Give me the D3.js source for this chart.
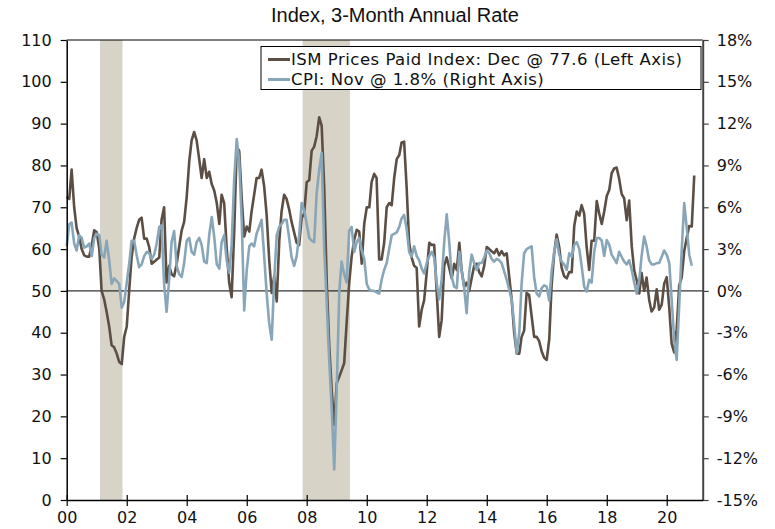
<!DOCTYPE html>
<html>
<head>
<meta charset="utf-8">
<script src="https://cdn.jsdelivr.net/npm/d3@7"></script>
<style>
  body { margin: 0; background: #fff; }
  svg { display: block; }
</style>
</head>
<body>
<svg id="chart" width="775" height="529"></svg>
<script>
// ISM prices paid, monthly Jan 2000 - Dec 2020 (left axis)
const ismValues = [
  72.5, 72, 79, 70, 65, 63, 60, 58.5, 58.2, 58.2, 61, 64.5,
  64, 60, 50, 48, 45, 41.5, 37, 36.5, 35, 33, 32.5, 39,
  41.5, 50.5, 58, 62.5, 65, 67, 67.5, 62.5, 62.5, 60.5, 56.5, 57,
  57.5, 58, 67, 70, 52, 56, 54, 53.5, 56.5, 60.5, 64.5, 66.5,
  72.5, 81, 86, 88, 86, 81.5, 77, 81.5, 77, 78.5, 75.5, 74,
  71, 66, 73, 71, 60.5, 52, 48.5, 64, 84.5, 83.5, 72, 63,
  65.4, 64.2, 69, 73, 77, 77, 79, 75, 68, 57.5, 49.5, 53.5,
  47.5, 62, 69, 73, 72, 69.5, 66.5, 64, 61.5, 61, 67.5, 68.5,
  76, 76.5, 83.5, 84.5, 87, 91.5, 89.5, 75, 52, 37, 26, 18,
  28, 29.5, 31, 32.7, 42.3, 51.8, 58.2, 62.2, 64.6, 64.2, 56.5, 66,
  70, 70, 76, 78, 77, 57.5, 57.5, 61.5, 70, 71, 70.5, 77,
  81.5, 82.5, 85.5, 85.7, 75, 61.5, 58, 56, 55.5, 41.5, 45.5, 47.8,
  54.5, 61.5, 61, 61, 50, 39, 43, 56, 58, 55.5, 53, 56.5,
  55, 61.5, 55, 51, 52, 50, 53, 56, 56.5, 54.5, 53.5, 56,
  60.5, 60, 59.5, 59, 60, 58.5, 59.5, 58.5, 59, 53.5, 47.8, 40,
  35, 35, 39, 40.5, 49.5, 49, 44, 39, 39, 38, 35.5, 34,
  33.5, 38.5, 51.5, 59, 63.5, 60.5, 55.5, 53.5, 53, 54.5, 54.5, 65.5,
  69, 68, 70.5, 68.5, 60.5, 55, 62, 62, 71.5, 68.5, 66, 69,
  72.7, 74.2, 78.1, 79.3, 79.5, 76.8, 73.2, 72.1, 66.9, 71.6, 60.7, 54.9,
  52.5, 49.4, 54.3, 50, 53.2, 47.9, 45.1, 46, 50.4, 45.5, 46.7, 51.7,
  53.3, 45.9, 37.4, 35.3, 40.8, 51.3, 53.2, 59.5, 62.8, 65.5, 65.4, 77.6
];

// CPI, 3-month annual rate, monthly Jan 2000 - Nov 2020 (right axis, %)
const cpiValues = [
  3.2, 4.8, 4.9, 3.4, 2.9, 4.0, 3.8, 3.1, 3.2, 3.4, 2.5, 3.8,
  4.1, 4.0, 2.6, 2.4, 3.6, 2.2, 0.5, 0.9, 0.7, 0.5, -1.2, -0.8,
  0.6, 2.0, 3.6, 3.6, 2.6, 1.7, 1.9, 2.5, 2.8, 2.7, 2.3, 2.6,
  3.4, 4.6, 4.7, 0.5, -1.5, 0.8, 3.5, 4.3, 1.8, 1.2, 1.0, 2.0,
  3.6, 3.8, 2.8, 2.6, 3.5, 3.8, 3.3, 2.1, 2.0, 4.0, 5.3, 3.9,
  1.9, 1.6, 3.5, 4.0, 2.2, 1.3, 3.3, 8.0, 10.9, 9.3, 5.0, -1.4,
  1.5, 3.2, 3.4, 3.2, 4.1, 4.6, 5.1, 2.5, -0.2, -2.3, -3.5, 0.8,
  4.0, 4.6, 4.8, 5.1, 5.1, 3.8, 2.4, 1.8, 2.5, 4.0, 6.3, 5.8,
  4.8, 3.8, 3.6, 3.5, 7.0, 8.7, 9.9, 3.0, -0.9, -5.0, -8.5, -12.8,
  -6.9, 0.0, 2.1, 1.2, 0.6, 4.3, 4.6, 2.8, 3.5, 3.8, 2.9, 2.3,
  0.5, 0.1, 0.0, 0.0, -0.1, -0.2, 0.8, 1.5, 2.0, 3.0, 4.0, 4.1,
  4.2, 4.6, 5.2, 5.45, 4.5, 2.8, 2.45, 3.2, 2.5, 2.2, 1.6, 1.25,
  2.0, 2.5, 2.8, 2.4, 0.6, -0.6, 0.8, 3.5, 5.5, 3.5, 1.0, 0.3,
  0.2, 2.8, 1.5, 0.2, -1.6, 1.3, 2.6, 2.0, 1.5, 2.0, 2.0, 2.4,
  2.9, 2.7, 2.3, 2.1, 2.3, 2.2, 2.0, 1.4, 0.8, 0.1, -0.65, -2.4,
  -4.5, -3.0, 0.5, 2.7, 3.0, 3.1, 3.2, 1.0, -0.2, -0.4, 0.2, 0.4,
  0.3, -0.7, 1.4, 2.8, 3.7, 2.6, 2.1, 1.9, 1.5, 2.7, 2.45, 3.3,
  3.5, 3.0, 1.8, 0.3, -0.05, 0.8, 0.6, 2.8, 3.8, 3.8, 3.6, 2.5,
  3.65, 3.3, 2.6, 2.3, 2.0, 2.8, 2.45, 2.1, 1.9, 2.2, 1.5, 0.6,
  -0.2, 0.8, 2.5, 3.9, 3.2, 2.2, 1.9, 1.9, 2.0, 2.0, 2.45, 2.9,
  2.6, 2.0, -0.6, -3.5, -4.95, -1.0, 2.9, 6.3, 4.5, 2.6, 1.8
];

const recessions = [
  ["2001-02-10", "2001-11-10"],
  ["2007-11-12", "2009-06-10"]
];

const leftTicks = [0, 10, 20, 30, 40, 50, 60, 70, 80, 90, 100, 110];
const rightTicks = [-15, -12, -9, -6, -3, 0, 3, 6, 9, 12, 15, 18];
const yearTicks = [2000, 2002, 2004, 2006, 2008, 2010, 2012, 2014, 2016, 2018, 2020];

const legendItems = [
  {label: "ISM Prices Paid Index: Dec @ 77.6 (Left Axis)", color: "#5b4e44"},
  {label: "CPI: Nov @ 1.8% (Right Axis)", color: "#88a6b8"}
];

const title = "Index, 3-Month Annual Rate";

// ---- drawing ----
const svg = d3.select("#chart");
const plot = {left: 66.7, right: 702.7, top: 40, bottom: 500};
const tickFont = "'DejaVu Sans', Verdana, sans-serif";

const x = d3.scaleTime()
  .domain([new Date(2000, 0, 1), new Date(2021, 2, 14)])
  .range([plot.left, plot.right]);
const yL = d3.scaleLinear().domain([0, 110]).range([plot.bottom, plot.top]);
const yR = d3.scaleLinear().domain([-15, 18]).range([plot.bottom, plot.top]);

const monthDate = i => new Date(2000, i, 1);

// recession shading
svg.append("g")
  .selectAll("rect")
  .data(recessions)
  .join("rect")
  .attr("x", d => x(d3.isoParse(d[0])))
  .attr("width", d => x(d3.isoParse(d[1])) - x(d3.isoParse(d[0])))
  .attr("y", plot.top)
  .attr("height", plot.bottom - plot.top)
  .attr("fill", "#d8d3c7");

// zero / 50 line
svg.append("line")
  .attr("x1", plot.left).attr("x2", plot.right)
  .attr("y1", yL(50)).attr("y2", yL(50))
  .attr("stroke", "#000").attr("stroke-width", 1);

const ismLine = d3.line()
  .x((d, i) => x(monthDate(i)))
  .y(d => yL(d));
const cpiLine = d3.line()
  .x((d, i) => x(monthDate(i)))
  .y(d => yR(d));

svg.append("path")
  .datum(ismValues)
  .attr("d", ismLine)
  .attr("fill", "none")
  .attr("stroke", legendItems[0].color)
  .attr("stroke-width", 2.6)
  .attr("stroke-linejoin", "round");

svg.append("path")
  .datum(cpiValues)
  .attr("d", cpiLine)
  .attr("fill", "none")
  .attr("stroke", legendItems[1].color)
  .attr("stroke-width", 2.6)
  .attr("stroke-linejoin", "round");

// top border
svg.append("line")
  .attr("x1", plot.left).attr("x2", plot.right)
  .attr("y1", plot.top).attr("y2", plot.top)
  .attr("stroke", "#000").attr("stroke-width", 1);

// axes
const styleAxis = (g, color, width) => {
  g.selectAll("text")
    .attr("font-family", tickFont)
    .attr("font-size", 16)
    .attr("fill", "#111");
  g.selectAll("line").attr("stroke", color).attr("stroke-width", 1.2);
  g.select(".domain").attr("stroke", color).attr("stroke-width", width);
};

svg.append("g")
  .attr("transform", `translate(${plot.left},0)`)
  .call(d3.axisLeft(yL).tickValues(leftTicks).tickSizeInner(6).tickSizeOuter(0).tickPadding(9))
  .call(g => styleAxis(g, "#000", 1.5));

svg.append("g")
  .attr("transform", `translate(${plot.right},0)`)
  .call(d3.axisRight(yR).tickValues(rightTicks).tickFormat(d => d + "%")
    .tickSizeInner(6).tickSizeOuter(0).tickPadding(8))
  .call(g => styleAxis(g, "#444", 2));

svg.append("g")
  .attr("transform", `translate(0,${plot.bottom})`)
  .call(d3.axisBottom(x)
    .tickValues(yearTicks.map(yr => new Date(yr, 0, 1)))
    .tickFormat(d3.timeFormat("%y"))
    .tickSizeInner(6).tickSizeOuter(0).tickPadding(6))
  .call(g => styleAxis(g, "#000", 1.5))
  .call(g => g.selectAll(".tick line").attr("y1", -5));

// title
svg.append("text")
  .attr("x", 395).attr("y", 22)
  .attr("text-anchor", "middle")
  .attr("font-family", "'Liberation Sans Narrow', 'Liberation Sans', Arial, sans-serif")
  .attr("font-size", 20)
  .attr("fill", "#111")
  .text(title);

// legend
const legend = svg.append("g");
legend.append("rect")
  .attr("x", 261).attr("y", 46.5)
  .attr("width", 440).attr("height", 43)
  .attr("fill", "#fff")
  .attr("stroke", "#000").attr("stroke-width", 1);

const rows = legend.selectAll("g.row")
  .data(legendItems)
  .join("g")
  .attr("class", "row")
  .attr("transform", (d, i) => `translate(268,${59.5 + i * 20})`);

rows.append("line")
  .attr("x1", 0).attr("x2", 22)
  .attr("stroke", d => d.color)
  .attr("stroke-width", 3);

rows.append("text")
  .attr("x", 23).attr("dy", "0.36em")
  .attr("font-family", tickFont)
  .attr("font-size", 16.5)
  .attr("letter-spacing", 0.5)
  .attr("fill", "#111")
  .text(d => d.label);
</script>
</body>
</html>
